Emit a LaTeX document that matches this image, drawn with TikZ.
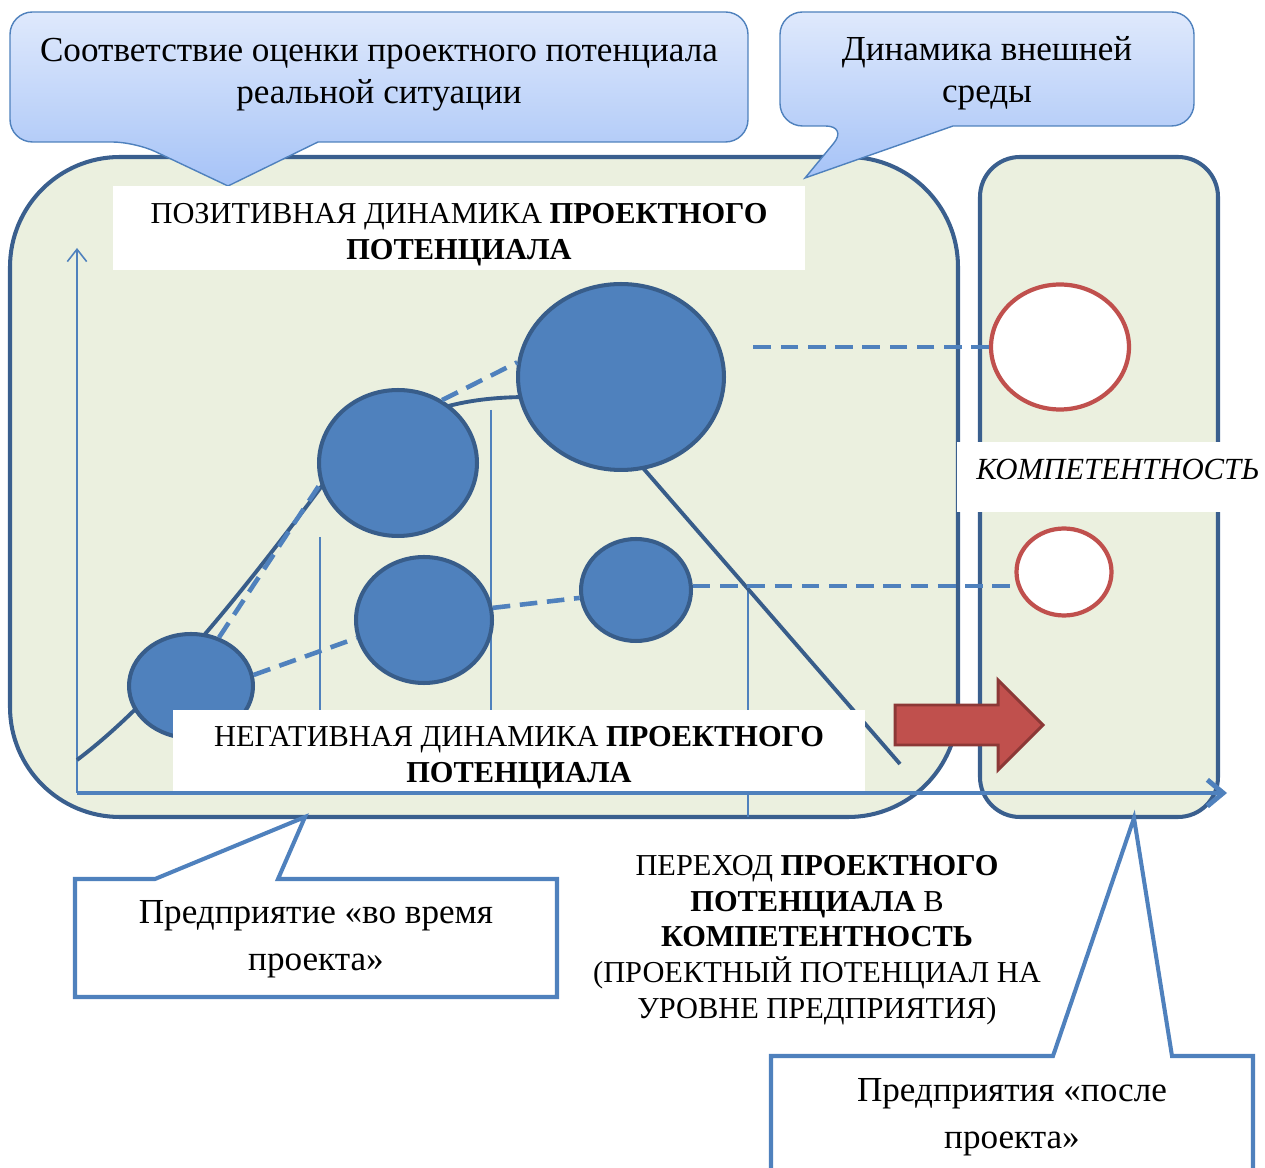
\documentclass[tikz,border=0pt]{standalone}
\usepackage{fontspec}
\setmainfont{Liberation Serif}
\usetikzlibrary{positioning,calc,arrows.meta,shapes.geometric}

\definecolor{framecol}{HTML}{3A5F8E}
\definecolor{panelgreen}{HTML}{EBF0DF}
\definecolor{potblue}{HTML}{4F81BD}
\definecolor{potedge}{HTML}{385D8A}
\definecolor{compred}{HTML}{C0504D}
\definecolor{arrowedge}{HTML}{8C3836}
\definecolor{calltop}{HTML}{DFE9FC}
\definecolor{callbot}{HTML}{A6C3F7}

\begin{document}
\begin{tikzpicture}[x=0.02cm, y=-0.02cm,
  panel/.style={fill=panelgreen, draw=framecol, line width=2.3pt},
  pot/.style={ellipse, fill=potblue, draw=potedge, line width=2.3pt, inner sep=0pt},
  compring/.style={ellipse, fill=white, draw=compred, line width=2.4pt, inner sep=0pt},
  link/.style={potblue, line width=2.6pt, dash pattern=on 10pt off 5.5pt},
  tick/.style={potblue, line width=0.9pt},
  whitebox/.style={fill=white, inner sep=0pt, align=center, font=\fontsize{17.3}{20.3}\selectfont},
  bubble/.style={draw=potblue, line width=0.8pt, top color=calltop, bottom color=callbot},
  note/.style={draw=potblue, line width=2.3pt, fill=white},
  say/.style={align=center, font=\fontsize{20}{24}\selectfont},
  saylow/.style={align=center, font=\fontsize{20}{27}\selectfont},
]
\useasboundingbox (0,0) rectangle (1265,1168);
%
\draw[panel, rounded corners=2.2cm] (10,157) rectangle (958,817);
\draw[panel, rounded corners=0.8cm] (980,157) rectangle (1218,817);
%
\coordinate (tipA) at (228,186);
\coordinate (tipB) at (805,178);
\draw[bubble] (400,142) [rounded corners=0.45cm] -- (748,142) -- (748,12) -- (10,12) -- (10,142) -- (135,142)
  [sharp corners] -- (tipA) -- (318,142) -- cycle;
\draw[bubble] (1050,126) [rounded corners=0.45cm] -- (1194,126) -- (1194,12) -- (780,12) -- (780,126) -- (848,126)
  [sharp corners] -- (tipB) -- (953,126) -- cycle;
\node[say] (fit) at (379,75) {Соответствие оценки проектного потенциала\\реальной ситуации};
\node[say] (env) at (987,73) {Динамика внешней\\среды};
%
\coordinate (o)    at (77,793);
\coordinate (ytop) at (77,248);
\coordinate (xend) at (1227,793);
\draw[tick, -{Straight Barb[length=7pt,width=11pt]}] (o) -- (ytop);
\draw[tick] (320,537) -- (320,793);
\draw[tick] (491,410) -- (491,793);
\draw[tick] (748,590) -- (748,817);
\draw[potedge, line width=2.2pt] (77,760) .. controls (150,705) and (230,610) .. (330,475)
  .. controls (400,410) and (460,397) .. (530,397) -- (610,430) -- (900,764);
%
\node[pot, minimum width=2.48cm, minimum height=2.08cm] (e1) at (191,686) {};
\node[pot, minimum width=3.16cm, minimum height=2.92cm] (e2) at (398,463) {};
\node[pot, minimum width=4.12cm, minimum height=3.72cm] (e3) at (621,377) {};
\node[pot, minimum width=2.72cm, minimum height=2.52cm] (e4) at (424,620) {};
\node[pot, minimum width=2.2cm,  minimum height=2.04cm] (e5) at (636,590) {};
%
\node[compring, minimum width=2.76cm, minimum height=2.5cm]  (c1) at (1060,347) {};
\node[compring, minimum width=1.9cm,  minimum height=1.74cm] (c2) at (1064,572) {};
%
\path[link]
  (e1.60) edge (e2.195)
  (e1.10) edge (e4.195)
  (e2.55) edge (e3.172)
  (e4.10) edge (e5.188)
; %-links-%
\draw[link, shorten >=0.48cm] (c1.west) -- (c1.west -| e3.east);
\draw[link] (e5.4) -- (e5.4 -| c2.west);
%
\node[whitebox, minimum width=13.84cm, minimum height=1.68cm] (pos) at (459,228)
  {\rule{0pt}{19pt}ПОЗИТИВНАЯ ДИНАМИКА \textbf{ПРОЕКТНОГО}\\\textbf{ПОТЕНЦИАЛА}};
\node[whitebox, minimum width=13.84cm, minimum height=1.66cm] (neg) at (519,751)
  {\rule{0pt}{19pt}НЕГАТИВНАЯ ДИНАМИКА \textbf{ПРОЕКТНОГО}\\\textbf{ПОТЕНЦИАЛА}};
\node[fill=white, inner sep=0pt, minimum width=5.3cm, minimum height=1.4cm] (comp) at (1089,477) {};
\node[anchor=base west, inner sep=0pt, font=\fontsize{17.5}{20}\selectfont\itshape] (compword)
  at (976,480) {КОМПЕТЕНТНОСТЬ};
%
\draw[fill=compred, draw=arrowedge, line width=1.7pt] (895,705) -- (998,705) -- (998,680) -- (1043,725)
  -- (998,770) -- (998,745) -- (895,745) -- cycle;
\draw[potblue, line width=2.8pt, -{Straight Barb[length=9pt,width=15pt]}] (o) -- (xend);
%
\coordinate (tipC) at (305,817);
\coordinate (tipD) at (1134,818);
\draw[note] (75,879) -- (155,879) -- (tipC) -- (278,879) -- (557,879) -- (557,997) -- (75,997) -- cycle;
\draw[note] (771,1056) -- (1053,1056) -- (tipD) -- (1172,1056) -- (1253,1056) -- (1253,1190) -- (771,1190) -- cycle;
\node[saylow] (during) at (316,939) {Предприятие «во время\\проекта»};
\node[saylow] (after) at (1012,1117) {Предприятия «после\\проекта»};
\node[whitebox, fill=none] (shift) at (817,940)
  {ПЕРЕХОД \textbf{ПРОЕКТНОГО}\\\textbf{ПОТЕНЦИАЛА} В\\\textbf{КОМПЕТЕНТНОСТЬ}\\(ПРОЕКТНЫЙ ПОТЕНЦИАЛ НА\\УРОВНЕ ПРЕДПРИЯТИЯ)};
\end{tikzpicture}
\end{document}
